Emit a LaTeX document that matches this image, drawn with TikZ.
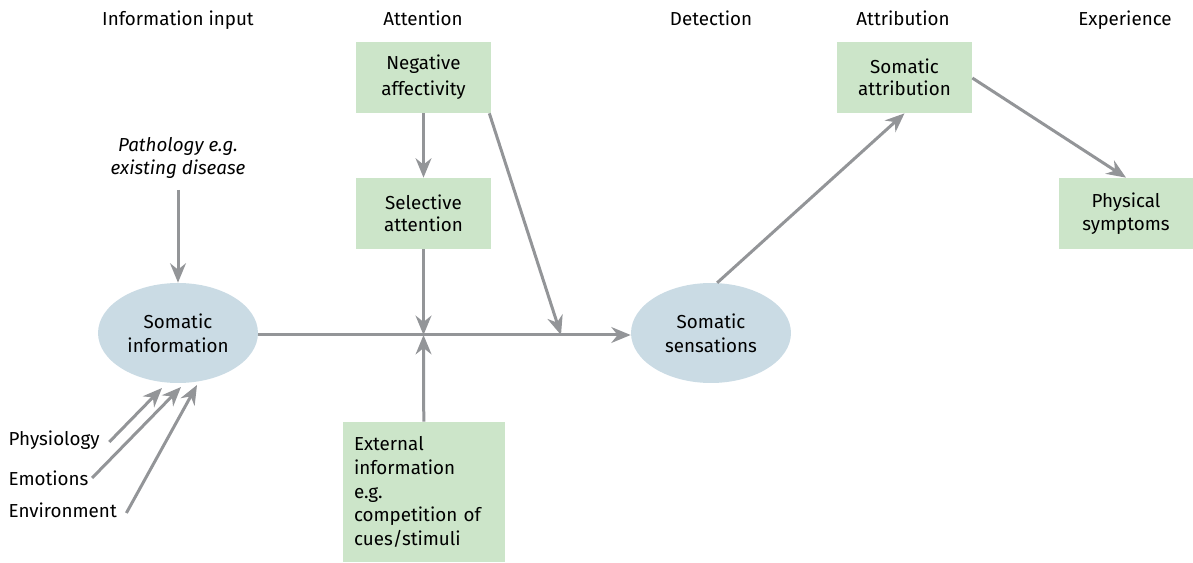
\documentclass[tikz,border=0pt]{standalone}
\usepackage{fontspec}
\setmainfont{Fira Sans}
\usetikzlibrary{arrows.meta,shapes.geometric}
\definecolor{boxgreen}{RGB}{204,229,201}
\definecolor{ellblue}{RGB}{202,219,228}
\definecolor{arrgray}{RGB}{147,149,152}
\tikzset{
  stagebox/.style={fill=boxgreen, minimum width=2.7cm, minimum height=1.42cm, inner sep=0pt, align=center},
  senseell/.style={ellipse, fill=ellblue, minimum width=3.2cm, minimum height=2cm, inner sep=0pt, align=center},
  heading/.style={anchor=base},
  flow/.style={draw=arrgray, line width=0.06cm, -{Stealth[length=11pt,width=9pt]}}
}
\begin{document}
\begin{tikzpicture}[x=0.02cm, y=-0.02cm]
\fontsize{10.7}{13.6}\selectfont
\useasboundingbox (0,0) rectangle (1193,563);

% Stage headings
\node[heading] (hinput) at (178,26) {Information input};
\node[heading] (hatt) at (423,26) {Attention};
\node[heading] (hdet) at (711,26) {Detection};
\node[heading] (hattr) at (903,26) {Attribution};
\node[heading] (hexp) at (1125,26) {Experience};

% Boxes
\node[stagebox] (negaff) at (423.5,77.5) {\raisebox{-2pt}{\shortstack{Negative\\[1pt]affectivity}}};
\node[stagebox] (selatt) at (423.5,213.5) {\raisebox{-2pt}{\shortstack{Selective\\[1pt]attention}}};
\node[stagebox, minimum width=3.24cm, minimum height=2.8cm, text width=2.8cm, inner xsep=0.22cm, align=left] (extinfo) at (424,492) {\raisebox{-2pt}{\parbox{2.8cm}{External\\information\\e.g.\\competition of\\cues/stimuli}}};
\node[stagebox] (somattr) at (904.5,77.5) {\raisebox{-2pt}{\shortstack{Somatic\\[1pt]attribution}}};
\node[stagebox] (physsym) at (1126,213.5) {\raisebox{-2pt}{\shortstack{Physical\\[1pt]symptoms}}};

% Ellipses
\node[senseell] (sominfo) at (178,333) {Somatic\\information};
\node[senseell] (somsens) at (711,333) {Somatic\\sensations};

% Input labels
\node[align=center, font=\itshape] (patho) at (178,158) {Pathology e.g.\\existing disease};
\node[anchor=west] (physio) at (2,440) {Physiology};
\node[anchor=west] (emot) at (2,478) {Emotions};
\node[anchor=west] (envir) at (2,510) {Environment};

% Junctions on the main line
\coordinate (jatt) at (423.5,335);
\coordinate (jneg) at (561,335);

% Connectors
\draw[flow] (patho.south |- 0,190) -- (sominfo.north);
\draw[flow] (sominfo.east |- jatt) -- (somsens.west |- jatt);
\draw[flow] (negaff) -- (selatt);
\draw[flow] (selatt) -- (jatt);
\draw[flow] (extinfo) -- (jatt);
\draw[flow] (negaff.south east) ++(-2,0) -- (jneg);
\draw[flow] (somsens.83) -- (somattr.south);
\draw[flow] (somattr.east |- 0,78) -- (physsym.north);
\draw[flow] (physio.east) ++(3,2) -- (162,388);
\draw[flow] (emot.east) ++(-3,0) -- (181,387);
\draw[flow] (envir.east) ++(3,3) -- (197,385);
\end{tikzpicture}
\end{document}
